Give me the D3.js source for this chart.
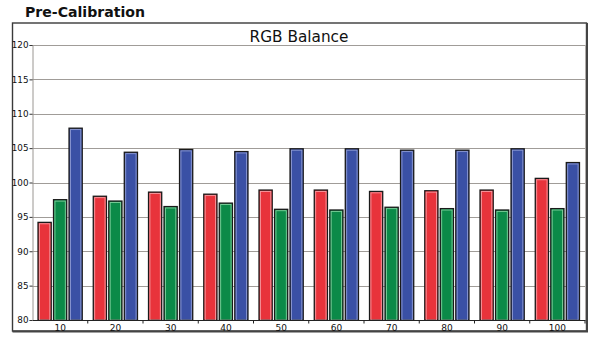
<!DOCTYPE html>
<html>
<head>
<meta charset="utf-8">
<script src="https://cdn.jsdelivr.net/npm/d3@7"></script>
<style>
html,body{margin:0;padding:0;background:#fff;}
svg{display:block;}
</style>
</head>
<body>
<div id="chart"></div>
<script>
const categories = ["10","20","30","40","50","60","70","80","90","100"];
const seriesNames = ["Red","Green","Blue"];
const redValues   = [94.2, 98.0, 98.6, 98.3, 98.9, 98.9, 98.7, 98.8, 98.9, 100.6];
const greenValues = [97.5, 97.3, 96.5, 97.0, 96.1, 96.0, 96.4, 96.2, 96.0, 96.2];
const blueValues  = [107.9, 104.4, 104.8, 104.5, 104.9, 104.9, 104.7, 104.7, 104.9, 102.9];
const yTicks = [80, 85, 90, 95, 100, 105, 110, 115, 120];
const chartTitle = "RGB Balance";
const pageTitle = "Pre-Calibration";

const series = [redValues, greenValues, blueValues];
const fills = ["#e8333b", "#0b8a48", "#3a50a5"];
const highlights = ["#f59aa0", "#7fcf9c", "#8d9ad2"];

const W = 600, H = 340;
const svg = d3.select("#chart").append("svg").attr("width", W).attr("height", H);

const plot = {left: 32.5, right: 585, top: 45, bottom: 320};

// outer frame
svg.append("rect").attr("x", 12.5).attr("y", 23).attr("width", 574).attr("height", 308)
  .attr("fill", "#fff").attr("stroke", "#3a3a3a").attr("stroke-width", 1.4);
svg.append("path").attr("d", "M587,23 V331.5 H12.5")
  .attr("fill", "none").attr("stroke", "#444").attr("stroke-width", 2);

svg.append("text").attr("x", 25).attr("y", 16.8)
  .attr("font-family", "DejaVu Sans").attr("font-weight", "bold").attr("font-size", 14.6)
  .attr("textLength", 120).attr("lengthAdjust", "spacingAndGlyphs")
  .attr("fill", "#111").text(pageTitle);

svg.append("text").attr("x", 299).attr("y", 41.5).attr("text-anchor", "middle")
  .attr("font-family", "DejaVu Sans").attr("font-size", 15.3).attr("fill", "#111")
  .text(chartTitle);

const y = d3.scaleLinear().domain([80, 120]).range([plot.bottom, plot.top]);
const x = d3.scaleBand().domain(categories).range([plot.left, plot.right])
  .paddingInner(0.2).paddingOuter(0.1);
const xs = d3.scaleBand().domain(d3.range(3)).range([0, x.bandwidth()]).paddingInner(0.15);

// grid
svg.append("g").selectAll("line").data(yTicks.filter(t => t > 80)).join("line")
  .attr("x1", plot.left).attr("x2", plot.right)
  .attr("y1", d => Math.round(y(d)) + 0.5).attr("y2", d => Math.round(y(d)) + 0.5)
  .attr("stroke", "#a09c98").attr("stroke-width", 1.2);

// right border of plot
svg.append("line").attr("x1", plot.right + 0.5).attr("x2", plot.right + 0.5)
  .attr("y1", plot.top).attr("y2", plot.bottom).attr("stroke", "#b0acaa").attr("stroke-width", 1);

// y axis
const yAxis = d3.axisLeft(y).tickValues(yTicks).tickSize(3).tickPadding(1).tickFormat(d3.format("d"));
const gy = svg.append("g").attr("transform", `translate(${plot.left},0)`).call(yAxis);
gy.select(".domain").attr("stroke", "#9a9692");
gy.selectAll(".tick line").attr("stroke", "#333");
gy.selectAll("text").attr("font-family", "DejaVu Sans").attr("font-size", 8.8).attr("fill", "#111");

// bars
const groups = svg.append("g").selectAll("g").data(categories).join("g")
  .attr("transform", d => `translate(${x(d)},0)`);
groups.each(function(cat, i) {
  const g = d3.select(this);
  series.forEach((vals, s) => {
    const v = vals[i];
    const bx = xs(s), bw = xs.bandwidth();
    const top = y(v), h = plot.bottom - top;
    g.append("rect").attr("x", bx).attr("y", top).attr("width", bw).attr("height", h)
      .attr("fill", fills[s]).attr("stroke", "#1a1a1a").attr("stroke-width", 1.3);
    g.append("rect").attr("x", bx + 1.4).attr("y", top + 1.4).attr("width", bw - 2.8).attr("height", Math.max(0, h - 1.4))
      .attr("fill", "none").attr("stroke", highlights[s]).attr("stroke-width", 0.9);
  });
});

// x axis
const xAxis = d3.axisBottom(x).tickSize(0).tickPadding(5);
const gx = svg.append("g").attr("transform", `translate(0,${plot.bottom})`).call(xAxis);
gx.select(".domain").attr("stroke", "#222").attr("stroke-width", 1.2);
gx.selectAll("text").attr("font-family", "DejaVu Sans").attr("font-size", 9).attr("fill", "#111");

// separator ticks between categories
const sepPositions = categories.slice(1).map(c => x(c) - x.step() * x.paddingInner() / 2);
sepPositions.push(plot.right);
svg.append("g").selectAll("line").data(sepPositions).join("line")
  .attr("x1", d => d).attr("x2", d => d)
  .attr("y1", plot.bottom).attr("y2", plot.bottom + 3.5)
  .attr("stroke", "#222").attr("stroke-width", 1);
</script>
</body>
</html>
